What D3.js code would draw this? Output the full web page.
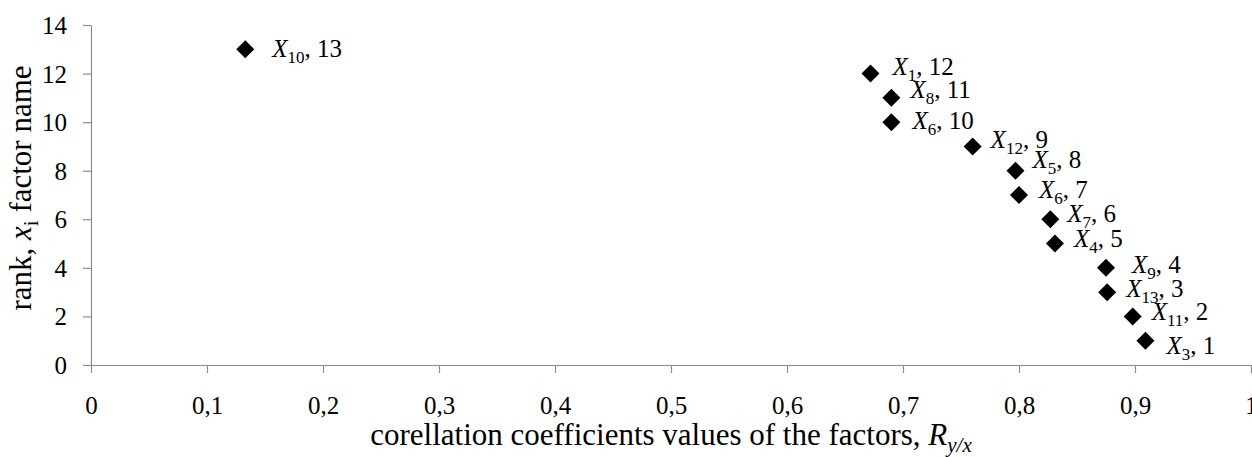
<!DOCTYPE html>
<meta charset="utf-8">
<script src="https://d3js.org/d3.v7.min.js"></script>
<style>
  body { margin: 0; background: #fff; }
  text { font-family: "Liberation Serif", "Times New Roman", serif; fill: #000; }
</style>
<div id="my_dataviz"></div>
<script>

// Data
var factor = [10, 1, 8, 6, 12, 5, 6, 7, 4, 9, 13, 11, 3];
var rank   = [13, 12, 11, 10, 9, 8, 7, 6, 5, 4, 3, 2, 1];
var corr   = [0.133, 0.672, 0.690, 0.690, 0.760, 0.797, 0.800, 0.827, 0.831, 0.875, 0.876, 0.898, 0.909];
var xTicks = [0, 0.1, 0.2, 0.3, 0.4, 0.5, 0.6, 0.7, 0.8, 0.9, 1];
var yTicks = [0, 2, 4, 6, 8, 10, 12, 14];

// label nudges (px from the marker), as placed in the original
var labelDx = [27, 22, 19, 21, 18, 17, 20, 17, 19, 26, 19, 19, 21];
var labelDy = [8, 1, 0, 7, 2, -3, 3, 3, 3, 5, 5, 4, 13];

var W = 1252, H = 457;
var margin = { top: 25, right: 1, bottom: 92, left: 91 },
    width = W - margin.left - margin.right,
    height = H - margin.top - margin.bottom;

var svg = d3.select("#my_dataviz")
  .append("svg")
    .attr("width", W)
    .attr("height", H)
  .append("g")
    .attr("transform", "translate(" + margin.left + "," + margin.top + ")");

var x = d3.scaleLinear().domain([0, 1]).range([0, width]);
var y = d3.scaleLinear().domain([0, 14]).range([height, 0]);

var fmt = function(d) { return String(d).replace(".", ","); };

// X axis
var xg = svg.append("g")
    .attr("transform", "translate(0," + height + ")")
    .call(d3.axisBottom(x).tickValues(xTicks).tickFormat(fmt).tickSize(8).tickSizeOuter(0));
xg.selectAll("text").attr("y", 49).attr("dy", 0).style("font-size", "25px");

// Y axis
var yg = svg.append("g")
    .call(d3.axisLeft(y).tickValues(yTicks).tickSize(8).tickSizeOuter(0));
yg.selectAll("text").attr("x", -24).attr("dy", "0.34em").style("font-size", "25px");

svg.selectAll(".domain, .tick line").attr("stroke", "#8c8c8c").attr("stroke-width", 1.2);
svg.selectAll(".tick text").attr("fill", "#000").attr("font-family", null);

// Points (diamonds)
var pts = rank.map(function(r, i) { return { f: factor[i], r: r, c: corr[i], i: i }; });
var s = 9;
svg.append("g")
  .selectAll("path")
  .data(pts)
  .enter()
  .append("path")
    .attr("d", function(d) {
      var cx = x(d.c), cy = y(d.r);
      return "M" + cx + "," + (cy - s) + "L" + (cx + s) + "," + cy +
             "L" + cx + "," + (cy + s) + "L" + (cx - s) + "," + cy + "Z";
    })
    .attr("fill", "#000");

// Data labels
var lab = svg.append("g")
  .selectAll("text")
  .data(pts)
  .enter()
  .append("text")
    .attr("x", function(d) { return x(d.c) + labelDx[d.i]; })
    .attr("y", function(d) { return y(d.r) + labelDy[d.i]; })
    .style("font-size", "25px");
lab.append("tspan").style("font-style", "italic").text("X");
lab.append("tspan").attr("dy", 6).style("font-size", "17px").text(function(d) { return d.f; });
lab.append("tspan").attr("dy", -6).text(function(d) { return ", " + d.r; });

// X axis title
var xt = svg.append("text")
    .attr("text-anchor", "middle")
    .attr("x", width / 2)
    .attr("y", height + 80)
    .style("font-size", "31px");
xt.append("tspan").text("corellation coefficients values of the factors, ");
xt.append("tspan").style("font-style", "italic").text("R");
xt.append("tspan").attr("dy", 7).style("font-size", "21px").style("font-style", "italic").text("y/x");

// Y axis title
var yt = svg.append("text")
    .attr("text-anchor", "middle")
    .attr("transform", "rotate(-90)")
    .attr("x", -(188 - margin.top))
    .attr("y", -margin.left + 31)
    .style("font-size", "31px");
yt.append("tspan").text("rank, ");
yt.append("tspan").style("font-style", "italic").text("x");
yt.append("tspan").attr("dy", 7).style("font-size", "21px").text("i");
yt.append("tspan").attr("dy", -7).text(" factor name");

</script>
